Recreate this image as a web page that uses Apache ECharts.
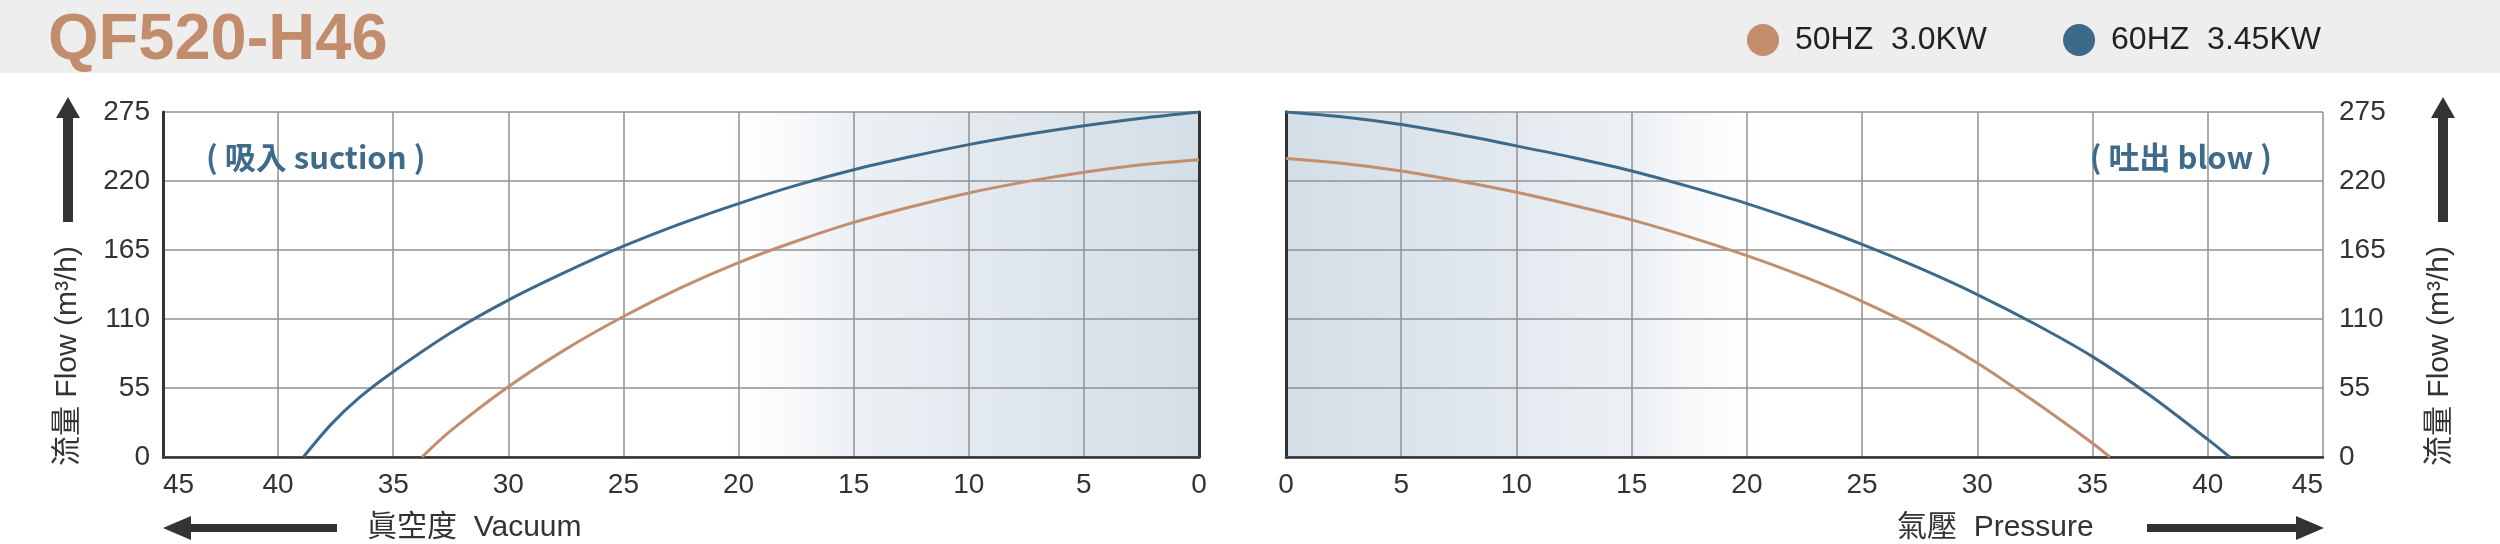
<!DOCTYPE html>
<html>
<head>
<meta charset="utf-8">
<script src="https://cdn.jsdelivr.net/npm/echarts@6/dist/echarts.min.js"></script>
<style>
  html, body { margin: 0; padding: 0; background: #fff; }
  #chart { width: 2500px; height: 544px; }
</style>
</head>
<body>
<div id="chart"></div>
<script>
// 数据：横轴为真空度 / 气压，纵轴为流量 (m3/h)
const xTicks = [0, 5, 10, 15, 20, 25, 30, 35, 40, 45];
const yTicks = [0, 55, 110, 165, 220, 275];
const seriesNames = ["50HZ  3.0KW", "60HZ  3.45KW"];

// 吸入 suction（真空度）
const vacuum50 = [[0, 237], [2.5, 233], [5, 227], [7.5, 219.5], [10, 210.5], [12.5, 199.5], [15, 187], [17.5, 172], [20, 155], [22.5, 135], [25, 112], [27.5, 86], [30, 56], [32.5, 21], [33.75, 0]];
const vacuum60 = [[0, 275], [2.5, 270], [5, 264], [7.5, 257], [10, 249], [12.5, 239.5], [15, 229], [17.5, 216.5], [20, 202], [22.5, 186], [25, 168], [27.5, 147.5], [30, 125], [32.5, 99], [35, 68], [36.5, 47], [37.7, 26], [38.9, 0]];

// 吐出 blow（气压）
const pressure50 = [[0, 238], [2.5, 234], [5, 228], [7.5, 220], [10, 211], [12.5, 200.5], [15, 189], [17.5, 175.5], [20, 160.5], [22.5, 143.5], [25, 124], [27.5, 101.5], [30, 75], [32.5, 44], [35, 11], [35.75, 0]];
const pressure60 = [[0, 275], [2.5, 271], [5, 265], [7.5, 257], [10, 248], [12.5, 238.5], [15, 228], [17.5, 215.5], [20, 202], [22.5, 186.5], [25, 169.5], [27.5, 150.5], [30, 129.5], [32.5, 106], [35, 80], [37.5, 49], [40, 14], [40.95, 0]];

const colors = ["#c28e6e", "#3e6a8a"];
const font = "'Liberation Sans', 'Noto Sans CJK TC', sans-serif";
const dark = "#333333";
const gridGray = "#909090";

function bgGradient(reverse) {
  let stops = [
    { offset: 0, color: "rgba(255,255,255,0)" },
    { offset: 0.3, color: "#edf1f5" },
    { offset: 0.6, color: "#e1e8ee" },
    { offset: 1, color: "#d3dee6" }
  ];
  if (reverse) {
    stops = stops.map((s) => ({ offset: 1 - s.offset, color: s.color })).reverse();
  }
  return { type: "linear", x: 0, y: 0, x2: 1, y2: 0, colorStops: stops };
}

function mainX(gridIndex, inverse) {
  return {
    type: "value", gridIndex: gridIndex, min: 0, max: 45, interval: 5, inverse: inverse,
    position: "bottom", z: 2,
    axisLine: { show: true, lineStyle: { color: gridGray, width: 1.5 } },
    axisTick: { show: false },
    axisLabel: {
      margin: 14, fontSize: 28, color: dark, fontFamily: font,
      alignMaxLabel: inverse ? "left" : "right"
    },
    splitLine: { show: true, lineStyle: { color: gridGray, width: 1.5 } }
  };
}

function topX(gridIndex) {
  return {
    type: "value", gridIndex: gridIndex, min: 0, max: 45, position: "top", z: 2,
    axisLine: { show: true, lineStyle: { color: dark, width: 2.5 } },
    axisTick: { show: false }, axisLabel: { show: false }, splitLine: { show: false }
  };
}

function mainY(gridIndex, pos) {
  return {
    type: "value", gridIndex: gridIndex, min: 0, max: 275, interval: 55, position: pos, z: 2,
    axisLine: { show: true, lineStyle: { color: dark, width: 3 } },
    axisTick: { show: false },
    axisLabel: { margin: pos === "left" ? 13 : 16, fontSize: 28, color: dark, fontFamily: font },
    splitLine: { show: true, lineStyle: { color: gridGray, width: 1.5 } }
  };
}

function sideY(gridIndex, pos) {
  return {
    type: "value", gridIndex: gridIndex, min: 0, max: 275, position: pos, z: 2,
    axisLine: { show: true, lineStyle: { color: dark, width: 3 } },
    axisTick: { show: false }, axisLabel: { show: false }, splitLine: { show: false }
  };
}

function curve(name, color, data, xi, yi, area) {
  let s = {
    name: name, type: "line", xAxisIndex: xi, yAxisIndex: yi, z: 3,
    data: data, smooth: 0.3, showSymbol: false, symbol: "none",
    lineStyle: { color: color, width: 3 },
    itemStyle: { color: color },
    silent: true
  };
  if (area) {
    s.markArea = {
      silent: true, z: 1,
      itemStyle: { color: bgGradient(area.reverse) },
      data: [[{ coord: [area.from, 0] }, { coord: [area.to, 275] }]]
    };
  }
  return s;
}

function upArrow(cx) {
  return {
    type: "polygon",
    shape: { points: [[cx - 5, 222], [cx - 5, 118], [cx - 12, 118], [cx, 97], [cx + 12, 118], [cx + 5, 118], [cx + 5, 222]] },
    style: { fill: dark }
  };
}

let option = {
  animation: false,
  backgroundColor: "#ffffff",
  legend: {
    left: 1747, top: 24, padding: 0, itemGap: 76,
    itemWidth: 32, itemHeight: 32, icon: "circle",
    data: seriesNames,
    textStyle: { fontSize: 32, color: "#222", fontFamily: font, padding: [0, 0, 0, 11] }
  },
  grid: [
    { left: 163, top: 112, width: 1036, height: 345 },
    { left: 1286, top: 112, width: 1037, height: 345 }
  ],
  xAxis: [mainX(0, true), mainX(1, false), topX(0), topX(1)],
  yAxis: [mainY(0, "left"), mainY(1, "right"), sideY(0, "right"), sideY(1, "left")],
  series: [
    curve(seriesNames[0], colors[0], vacuum50, 0, 0, { from: 22, to: 0, reverse: false }),
    curve(seriesNames[1], colors[1], vacuum60, 0, 0),
    curve(seriesNames[0], colors[0], pressure50, 1, 1, { from: 0, to: 22, reverse: true }),
    curve(seriesNames[1], colors[1], pressure60, 1, 1)
  ],
  graphic: [
    { type: "rect", shape: { x: 0, y: 0, width: 2500, height: 73 }, style: { fill: "#eeeeee" }, z: -1 },
    {
      type: "text", x: 48, y: 41,
      style: { text: "QF520-H46", fill: "#c28d6d", font: "bold 65px 'Liberation Sans'", textVerticalAlign: "middle", verticalAlign: "middle" }
    },
    // 纵轴名称与箭头
    upArrow(68),
    upArrow(2443),
    {
      type: "text", x: 68, y: 356, rotation: Math.PI / 2,
      style: { text: "流量 Flow (m³/h)", fill: dark, font: "30px " + font, textAlign: "center", align: "center", textVerticalAlign: "middle", verticalAlign: "middle" }
    },
    {
      type: "text", x: 2440, y: 356, rotation: Math.PI / 2,
      style: { text: "流量 Flow (m³/h)", fill: dark, font: "30px " + font, textAlign: "center", align: "center", textVerticalAlign: "middle", verticalAlign: "middle" }
    },
    // 横轴名称与箭头
    {
      type: "polygon",
      shape: { points: [[337, 524], [191, 524], [191, 516], [163, 528], [191, 540], [191, 532], [337, 532]] },
      style: { fill: dark }
    },
    {
      type: "polygon",
      shape: { points: [[2147, 524], [2296, 524], [2296, 516], [2324, 528], [2296, 540], [2296, 532], [2147, 532]] },
      style: { fill: dark }
    },
    {
      type: "text", x: 367, y: 528,
      style: { text: "眞空度  Vacuum", fill: dark, font: "30px " + font, textVerticalAlign: "middle", verticalAlign: "middle" }
    },
    {
      type: "text", x: 1897, y: 528,
      style: { text: "氣壓  Pressure", fill: dark, font: "30px " + font, textVerticalAlign: "middle", verticalAlign: "middle" }
    },
    // 图内标注
    {
      type: "text", x: 206, y: 157, z: 10,
      style: { text: "( 吸入 suction )", fill: "#3f6b8b", font: "bold 31px 'Noto Sans CJK TC', sans-serif", textVerticalAlign: "middle", verticalAlign: "middle" }
    },
    {
      type: "text", x: 2272, y: 157, z: 10,
      style: { text: "( 吐出 blow )", fill: "#3f6b8b", font: "bold 31px 'Noto Sans CJK TC', sans-serif", textAlign: "right", align: "right", textVerticalAlign: "middle", verticalAlign: "middle" }
    }
  ]
};

let myChart = echarts.init(document.getElementById("chart"));
myChart.setOption(option);
</script>
</body>
</html>
